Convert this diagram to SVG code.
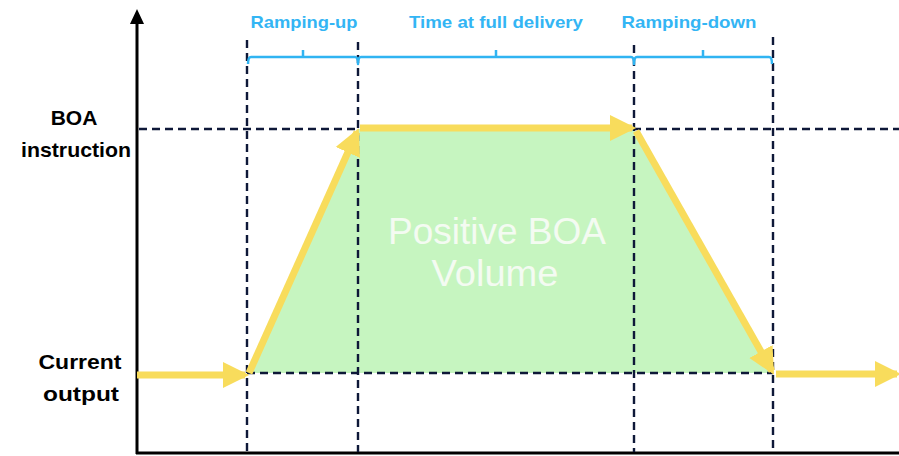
<svg xmlns="http://www.w3.org/2000/svg" width="899" height="456" viewBox="0 0 899 456">
  <style>
    .axis { stroke: #000; stroke-width: 3; fill: none; }
    .grid { stroke: #0e1838; stroke-width: 2.4; stroke-dasharray: 8 5; fill: none; }
    .flow { stroke: #f8dc5c; stroke-width: 7; fill: none; marker-end: url(#head); }
    .brace { stroke: #30b4f2; stroke-width: 2.5; fill: none; stroke-linejoin: round; }
    .phase { font-family: "Liberation Sans", Arial, sans-serif; font-weight: bold; font-size: 17px; fill: #33b5f4; text-anchor: middle; }
    .level { font-family: "Liberation Sans", Arial, sans-serif; font-weight: bold; font-size: 21px; fill: #000; text-anchor: middle; }
    .area { font-family: "Liberation Sans", Arial, sans-serif; font-size: 36px; fill: #f4fbf2; text-anchor: middle; }
  </style>
  <defs>
    <marker id="head" markerWidth="4" markerHeight="4" refX="3.2" refY="2" orient="auto" markerUnits="strokeWidth">
      <path d="M0,0.1 L3.8,2 L0,3.9 Z" fill="#f8dc5c"/>
    </marker>
  </defs>

  <rect width="899" height="456" fill="#fff"/>

  <!-- delivered volume area -->
  <polygon id="volume" points="247,373 358,129 634,129 773,373" fill="#c6f5c0"/>

  <!-- axes -->
  <g id="axes">
    <line class="axis" x1="137" y1="22" x2="137" y2="454"/>
    <line class="axis" x1="136" y1="453" x2="899" y2="453"/>
    <polygon points="137,9 130,24 144,24" fill="#000"/>
  </g>

  <!-- guide lines -->
  <g id="guides">
    <line class="grid" x1="139" y1="129" x2="899" y2="129"/>
    <line class="grid" x1="247" y1="373" x2="773" y2="373"/>
    <line class="grid" x1="247" y1="40" x2="247" y2="452"/>
    <line class="grid" x1="358" y1="42" x2="358" y2="452"/>
    <line class="grid" x1="634" y1="45" x2="634" y2="452"/>
    <line class="grid" x1="773" y1="37" x2="773" y2="452"/>
  </g>

  <!-- phase bracket -->
  <g id="bracket">
    <path class="brace" d="M248,64 Q248,57 251,57 L303,57 L303,50 M303,57 L355,57 Q358,57 358,64 Q358,57 361,57 L496,57 L496,50 M496,57 L631,57 Q634,57 634,64 Q634,57 637,57 L703,57 L703,50 M703,57 L769,57 Q772,57 772,64"/>
    <text class="phase" x="304" y="28" textLength="107" lengthAdjust="spacingAndGlyphs">Ramping-up</text>
    <text class="phase" x="496" y="28" textLength="174" lengthAdjust="spacingAndGlyphs">Time at full delivery</text>
    <text class="phase" x="689" y="28" textLength="135" lengthAdjust="spacingAndGlyphs">Ramping-down</text>
  </g>

  <!-- output profile -->
  <g id="connectors">
    <line class="flow" x1="137" y1="375" x2="245" y2="375"/>
    <line class="flow" x1="249" y1="373" x2="357" y2="132"/>
    <line class="flow" x1="360" y1="128" x2="632" y2="128"/>
    <line class="flow" x1="636" y1="131" x2="772" y2="371"/>
    <line class="flow" x1="776" y1="374" x2="897" y2="374"/>
  </g>

  <!-- level labels -->
  <g id="label-boa">
    <text class="level" x="74" y="125">BOA</text>
    <text class="level" x="76" y="157" textLength="110" lengthAdjust="spacingAndGlyphs">instruction</text>
  </g>
  <g id="label-current">
    <text class="level" x="80" y="369" textLength="83" lengthAdjust="spacingAndGlyphs">Current</text>
    <text class="level" x="81" y="401" textLength="76" lengthAdjust="spacingAndGlyphs">output</text>
  </g>

  <g id="label-volume">
    <text class="area" x="497" y="244" textLength="218" lengthAdjust="spacingAndGlyphs">Positive BOA</text>
    <text class="area" x="495" y="286" textLength="127" lengthAdjust="spacingAndGlyphs">Volume</text>
  </g>
</svg>
